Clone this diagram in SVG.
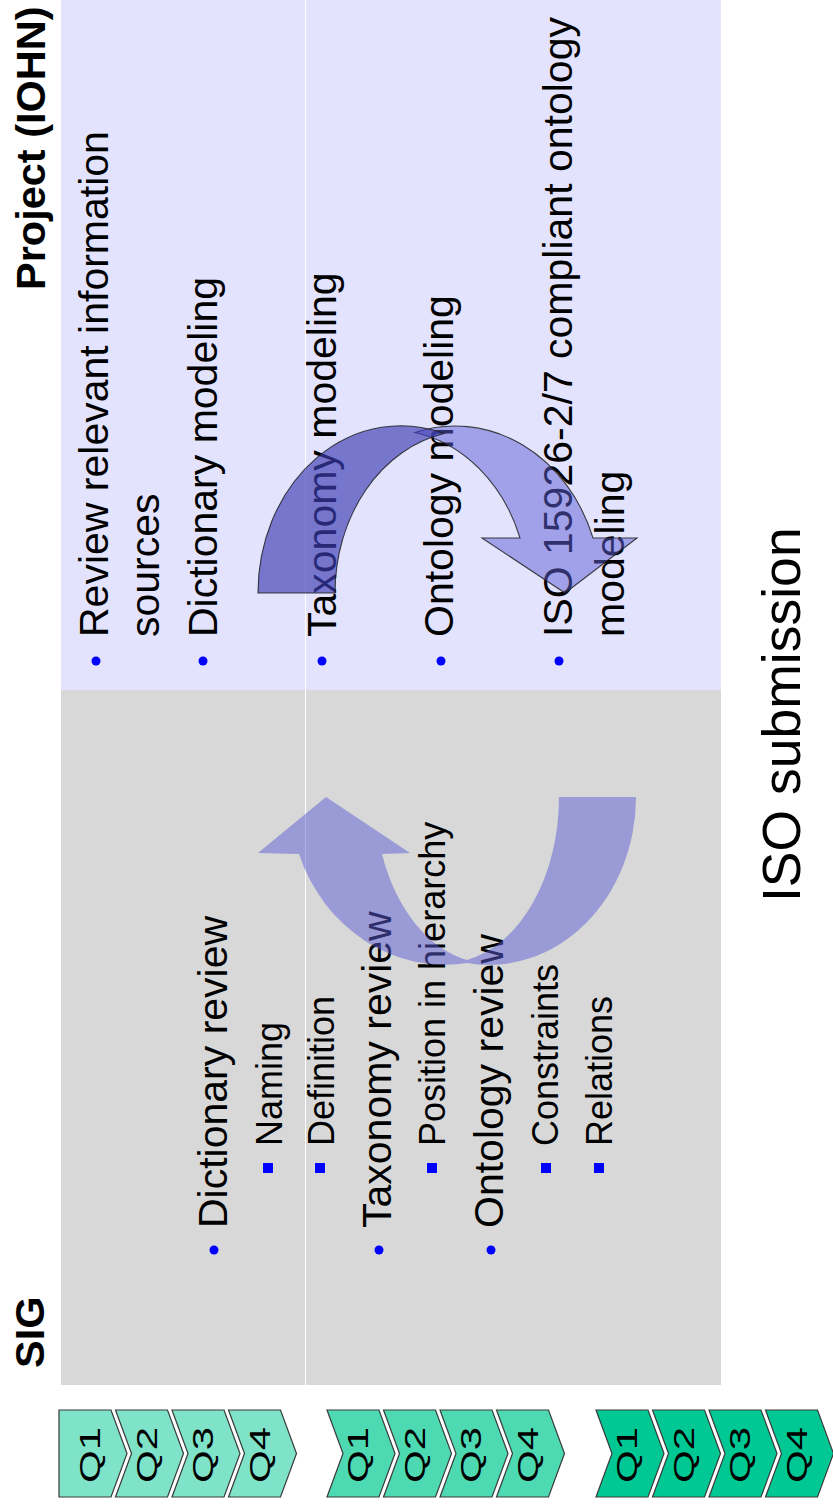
<svg xmlns="http://www.w3.org/2000/svg" xmlns:xlink="http://www.w3.org/1999/xlink" width="833" height="1510" viewBox="0 0 833 1510">
  <style>
    .t { font-family: "Liberation Sans", Arial, Helvetica, sans-serif; fill: #000; }
    .l1 { font-size: 41px; }
    .l2 { font-size: 36px; }
    .hd { font-size: 41.5px; font-weight: bold; }
    .big { font-size: 53.5px; }
    .q { font-size: 30px; }
    .dot { fill: #0000ff; }
    .chev { stroke: #3a3a3a; stroke-width: 1.2; stroke-linejoin: miter; }
    .g1 { fill: #7ee3c8; }
    .g2 { fill: #4ddab3; }
    .g3 { fill: #00c895; }
    .arrowLine { stroke: #222; stroke-width: 1.1; stroke-opacity: 0.85; }
  </style>
  <defs>
    <path id="chevron" d="M0,0 H52 L68,43.5 L52,87 H0 L16,43.5 Z"/>
    <path id="pentagon" d="M0,0 H52 L68,43.5 L52,87 H0 Z"/>
    <rect id="sq" x="-5" y="-5" width="10" height="10"/>
  </defs>

  <!-- swimlane panels -->
  <g id="panels">
    <rect x="61" y="0" width="660" height="690" fill="#e3e3fd"/>
    <rect x="61" y="690" width="660" height="695" fill="#d8d8d8"/>
    <line x1="305.5" y1="0" x2="305.5" y2="1385" stroke="#ffffff" stroke-width="1"/>
  </g>

  <!-- lane headers -->
  <g id="header-project">
    <text class="t hd" x="45" y="290" transform="rotate(-90 45 290)">Project (IOHN)</text>
  </g>
  <g id="header-sig">
    <text class="t hd" x="44" y="1368" transform="rotate(-90 44 1368)">SIG</text>
  </g>

  <!-- project lane tasks -->
  <g id="project-tasks">
    <circle class="dot" cx="96" cy="661" r="4.5"/>
    <text class="t l1" x="108" y="637" transform="rotate(-90 108 637)">Review relevant information</text>
    <text class="t l1" x="158.5" y="637" transform="rotate(-90 158.5 637)">sources</text>
    <circle class="dot" cx="203" cy="661" r="4.5"/>
    <text class="t l1" x="216.5" y="637" transform="rotate(-90 216.5 637)">Dictionary modeling</text>
    <circle class="dot" cx="322" cy="661" r="4.5"/>
    <text class="t l1" x="335.5" y="637" transform="rotate(-90 335.5 637)">Taxonomy modeling</text>
    <circle class="dot" cx="441" cy="661" r="4.5"/>
    <text class="t l1" x="453" y="637" transform="rotate(-90 453 637)">Ontology modeling</text>
    <circle class="dot" cx="559" cy="661" r="4.5"/>
    <text class="t l1" x="572" y="637" transform="rotate(-90 572 637)">ISO 15926-2/7 compliant ontology</text>
    <text class="t l1" x="624" y="637" transform="rotate(-90 624 637)">modeling</text>
  </g>

  <!-- SIG lane tasks -->
  <g id="sig-tasks">
    <circle class="dot" cx="214" cy="1250" r="4.5"/>
    <text class="t l1" x="227" y="1228" transform="rotate(-90 227 1228)">Dictionary review</text>
    <use href="#sq" xlink:href="#sq" class="dot" x="268" y="1168"/>
    <text class="t l2" x="282" y="1146" transform="rotate(-90 282 1146)">Naming</text>
    <use href="#sq" xlink:href="#sq" class="dot" x="320" y="1168"/>
    <text class="t l2" x="334" y="1146" transform="rotate(-90 334 1146)">Definition</text>
    <circle class="dot" cx="379" cy="1250" r="4.5"/>
    <text class="t l1" x="391" y="1228" transform="rotate(-90 391 1228)">Taxonomy review</text>
    <use href="#sq" xlink:href="#sq" class="dot" x="432" y="1168"/>
    <text class="t l2" x="445" y="1146" transform="rotate(-90 445 1146)">Position in hierarchy</text>
    <circle class="dot" cx="491" cy="1250" r="4.5"/>
    <text class="t l1" x="503" y="1228" transform="rotate(-90 503 1228)">Ontology review</text>
    <use href="#sq" xlink:href="#sq" class="dot" x="546" y="1168"/>
    <text class="t l2" x="558" y="1146" transform="rotate(-90 558 1146)">Constraints</text>
    <use href="#sq" xlink:href="#sq" class="dot" x="599" y="1168"/>
    <text class="t l2" x="612" y="1146" transform="rotate(-90 612 1146)">Relations</text>
  </g>

  <!-- milestone -->
  <g id="iso-submission">
    <text class="t big" x="800" y="902" transform="rotate(-90 800 902)">ISO submission</text>
  </g>

  <!-- curved arrows between the lanes (translucent) -->
  <g id="connectors">
    <g id="arrow-project">
      <path class="arrowLine" fill="rgb(95,95,215)" fill-opacity="0.5"
            d="M415,432.5 A146,167 0 0 1 593,538 L637,538 L565,593 L482,538 L520,538 A139,163 0 0 0 415,432.5 Z"/>
      <path class="arrowLine" fill="rgb(60,60,180)" fill-opacity="0.66"
            d="M258,593 A143,167 0 0 1 444,433.5 A136,163 0 0 0 335,593 Z"/>
    </g>
    <g id="arrow-sig">
      <path fill="rgb(92,92,212)" fill-opacity="0.5"
            d="M559,797 L636,797 A147,168 0 0 1 467,963 A155,168 0 0 1 299,854 L258,853 L326,797 L410,853 L382,854 A114,166 0 0 0 467,960 A114,166 0 0 0 559,797 Z"/>
    </g>
  </g>

  <!-- quarter timelines -->
  <g id="timeline-1" class="g1">
    <use href="#pentagon" xlink:href="#pentagon" class="chev" transform="translate(59,1410)"/>
    <use href="#chevron" xlink:href="#chevron" class="chev" transform="translate(115.5,1410)"/>
    <use href="#chevron" xlink:href="#chevron" class="chev" transform="translate(172,1410)"/>
    <use href="#chevron" xlink:href="#chevron" class="chev" transform="translate(228.5,1410)"/>
    <text class="t q" text-anchor="middle" y="10.75" transform="translate(89.5,1455) rotate(-90) scale(1.4,1)">Q1</text>
    <text class="t q" text-anchor="middle" y="10.75" transform="translate(146,1455) rotate(-90) scale(1.4,1)">Q2</text>
    <text class="t q" text-anchor="middle" y="10.75" transform="translate(202.5,1455) rotate(-90) scale(1.4,1)">Q3</text>
    <text class="t q" text-anchor="middle" y="10.75" transform="translate(259,1455) rotate(-90) scale(1.4,1)">Q4</text>
  </g>
  <g id="timeline-2" class="g2">
    <use href="#chevron" xlink:href="#chevron" class="chev" transform="translate(327,1410)"/>
    <use href="#chevron" xlink:href="#chevron" class="chev" transform="translate(383.5,1410)"/>
    <use href="#chevron" xlink:href="#chevron" class="chev" transform="translate(440,1410)"/>
    <use href="#chevron" xlink:href="#chevron" class="chev" transform="translate(496.5,1410)"/>
    <text class="t q" text-anchor="middle" y="10.75" transform="translate(357.5,1455) rotate(-90) scale(1.4,1)">Q1</text>
    <text class="t q" text-anchor="middle" y="10.75" transform="translate(414,1455) rotate(-90) scale(1.4,1)">Q2</text>
    <text class="t q" text-anchor="middle" y="10.75" transform="translate(470.5,1455) rotate(-90) scale(1.4,1)">Q3</text>
    <text class="t q" text-anchor="middle" y="10.75" transform="translate(527,1455) rotate(-90) scale(1.4,1)">Q4</text>
  </g>
  <g id="timeline-3" class="g3">
    <use href="#chevron" xlink:href="#chevron" class="chev" transform="translate(596,1410)"/>
    <use href="#chevron" xlink:href="#chevron" class="chev" transform="translate(652.5,1410)"/>
    <use href="#chevron" xlink:href="#chevron" class="chev" transform="translate(709,1410)"/>
    <use href="#chevron" xlink:href="#chevron" class="chev" transform="translate(765.5,1410)"/>
    <text class="t q" text-anchor="middle" y="10.75" transform="translate(626.5,1455) rotate(-90) scale(1.4,1)">Q1</text>
    <text class="t q" text-anchor="middle" y="10.75" transform="translate(683,1455) rotate(-90) scale(1.4,1)">Q2</text>
    <text class="t q" text-anchor="middle" y="10.75" transform="translate(739.5,1455) rotate(-90) scale(1.4,1)">Q3</text>
    <text class="t q" text-anchor="middle" y="10.75" transform="translate(796,1455) rotate(-90) scale(1.4,1)">Q4</text>
  </g>
</svg>
